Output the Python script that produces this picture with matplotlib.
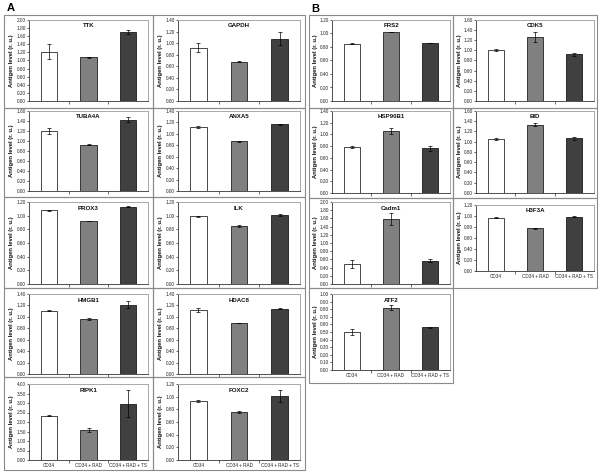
import matplotlib
matplotlib.use("Agg")
import matplotlib.pyplot as plt
import numpy as np
from matplotlib.patches import Rectangle
from matplotlib.ticker import FormatStrFormatter, MultipleLocator, FixedLocator

plt.rcParams['font.family'] = ['Liberation Sans', 'DejaVu Sans']

# ---------------- data ----------------
conditions = ["CD34", "CD34 + RAD", "CD34 + RAD + TS"]
bar_colors = ["#ffffff", "#808080", "#404040"]
ylabel_text = "Antigen level (r. u.)"

# Panel A
genes_A = ["TTK", "GAPDH", "TUBA4A", "ANXA5", "PROX3", "ILK", "HMGB1", "HDAC8", "RIPK1", "FOXC2"]
values_A = [
    [1.22, 1.08, 1.70],
    [0.92, 0.68, 1.08],
    [1.21, 0.93, 1.43],
    [1.12, 0.87, 1.17],
    [1.08, 0.92, 1.13],
    [0.99, 0.85, 1.01],
    [1.11, 0.96, 1.21],
    [1.12, 0.89, 1.14],
    [2.34, 1.57, 2.97],
    [0.93, 0.76, 1.01],
]
errors_A = [
    [0.18, 0.01, 0.05],
    [0.08, 0.01, 0.12],
    [0.06, 0.01, 0.05],
    [0.02, 0.01, 0.01],
    [0.01, 0.005, 0.01],
    [0.01, 0.01, 0.02],
    [0.01, 0.02, 0.06],
    [0.04, 0.005, 0.01],
    [0.04, 0.12, 0.70],
    [0.01, 0.02, 0.10],
]
ymax_A = [2.0, 1.4, 1.6, 1.4, 1.2, 1.2, 1.4, 1.4, 4.0, 1.2]
ystep_A = [0.2, 0.2, 0.2, 0.2, 0.2, 0.2, 0.2, 0.2, 0.5, 0.2]

# Panel B
genes_B = ["FRS2", "CDK5", "HSP90B1", "BID", "Cadm1", "H3F3A", "ATF2"]
values_B = [
    [0.85, 1.02, 0.86],
    [1.00, 1.27, 0.92],
    [0.78, 1.06, 0.76],
    [1.06, 1.33, 1.07],
    [0.49, 1.59, 0.57],
    [0.97, 0.78, 0.99],
    [0.50, 0.82, 0.56],
]
errors_B = [
    [0.01, 0.005, 0.005],
    [0.02, 0.10, 0.03],
    [0.02, 0.05, 0.04],
    [0.02, 0.03, 0.03],
    [0.09, 0.15, 0.04],
    [0.01, 0.01, 0.01],
    [0.04, 0.03, 0.01],
]
ymax_B = [1.2, 1.6, 1.4, 1.6, 2.0, 1.2, 1.0]
ystep_B = [0.2, 0.2, 0.2, 0.2, 0.2, 0.2, 0.1]

# ---------------- layout (pixels) ----------------
W, H = 602, 475
fig = plt.figure(figsize=(W / 100, H / 100), dpi=100)
fig.patch.set_facecolor("white")

def frac_rect(x0, y0, x1, y1):
    return [x0 / W, 1 - y1 / H, (x1 - x0) / W, (y1 - y0) / H]

def cell_border(x0, y0, x1, y1):
    fig.add_artist(Rectangle((x0 / W, 1 - y1 / H), (x1 - x0) / W, (y1 - y0) / H,
                             transform=fig.transFigure, fill=False,
                             ec="#8a8a8a", lw=0.8))

def draw_panel(cell, plot, gene, vals, errs, ymax, ystep, xlabels, ylab_off):
    cx0, cy0, cx1, cy1 = cell
    px0, py0, px1, py1 = plot
    cell_border(cx0, cy0, cx1, cy1)
    ax = fig.add_axes(frac_rect(px0, py0, px1, py1))
    x = np.arange(len(conditions))
    ax.bar(x, vals, width=0.41, color=bar_colors, edgecolor="black", linewidth=0.5, zorder=2)
    ax.errorbar(x, vals, yerr=errs, fmt="none", ecolor="black", elinewidth=0.5,
                capsize=1.3, capthick=0.5, zorder=3)
    ax.set_xlim(-0.5, 2.5)
    ax.set_ylim(0, ymax)
    ax.yaxis.set_major_locator(MultipleLocator(ystep))
    ax.yaxis.set_major_formatter(FormatStrFormatter("%.2f"))
    ax.tick_params(axis="y", labelsize=3.4, length=1.6, width=0.5, pad=0.8, colors="#222222")
    ax.set_xticks(x)
    if xlabels:
        ax.set_xticklabels(conditions, fontsize=3.3)
    else:
        ax.set_xticklabels([])
    ax.tick_params(axis="x", which="major", length=0, pad=2.5, colors="#222222")
    ax.xaxis.set_minor_locator(FixedLocator([0.5, 1.5]))
    ax.tick_params(axis="x", which="minor", length=1.8, width=0.5, color="#333333")
    for s in ["top", "right"]:
        ax.spines[s].set_color("#a8a8a8")
        ax.spines[s].set_linewidth(0.7)
    for s in ["left", "bottom"]:
        ax.spines[s].set_color("#333333")
        ax.spines[s].set_linewidth(0.6)
    h = py1 - py0
    ax.text(0.5, 1 - 6.0 / h, gene, transform=ax.transAxes, ha="center", va="center",
            fontsize=4.4, fontweight="bold", color="#111111")
    fig.text((cx0 + ylab_off) / W, 1 - ((py0 + py1) / 2) / H, ylabel_text, rotation=90,
             ha="center", va="center", fontsize=4.2, fontweight="bold", color="#111111")
    return ax

# Panel A geometry
A_cols = [(4, 153), (153, 305)]
A_rows = [(15, 108), (108, 197), (197, 288), (288, 377), (377, 470)]
A_plot_y = [(20, 101), (111, 191), (202, 284), (294, 374), (384, 460)]
for i, gene in enumerate(genes_A):
    r, c = divmod(i, 2)
    cx0, cx1 = A_cols[c]
    cy0, cy1 = A_rows[r]
    py0, py1 = A_plot_y[r]
    draw_panel((cx0, cy0, cx1, cy1), (cx0 + 25, py0, cx1 - 5, py1),
               gene, values_A[i], errors_A[i], ymax_A[i], ystep_A[i],
               xlabels=(r == 4), ylab_off=7.5)

# Panel B geometry
B_cols = [(309, 453), (453, 597)]
B_cells = [
    (0, (15, 108), (20, 101), False),
    (1, (15, 108), (20, 101), False),
    (0, (108, 198), (111, 193), False),
    (1, (108, 198), (111, 193), False),
    (0, (198, 288), (202, 284), False),
    (1, (198, 288), (205, 271), True),
    (0, (288, 383), (294, 370), True),
]
for i, gene in enumerate(genes_B):
    c, (cy0, cy1), (py0, py1), xl = B_cells[i]
    cx0, cx1 = B_cols[c]
    draw_panel((cx0, cy0, cx1, cy1), (cx0 + 23, py0, cx1 - 3, py1),
               gene, values_B[i], errors_B[i], ymax_B[i], ystep_B[i],
               xlabels=xl, ylab_off=6.0)

fig.text(7 / W, 1 - 8 / H, "A", fontsize=8, fontweight="bold", ha="left", va="center")
fig.text(311 / W, 1 - 9 / H, "B", fontsize=8, fontweight="bold", ha="left", va="center")

fig.savefig("out.png", dpi=100)
